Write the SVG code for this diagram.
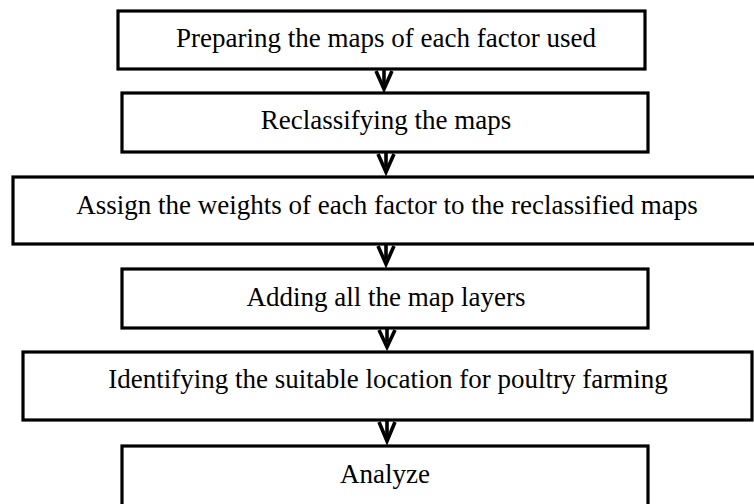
<svg xmlns="http://www.w3.org/2000/svg" width="754" height="504" viewBox="0 0 754 504">
<style>
.box{fill:#fff;stroke:#000;stroke-width:3.2}
.lbl{font-family:"Liberation Serif","Times New Roman",serif;font-size:27px;fill:#000;text-anchor:middle}
.arr{fill:none;stroke:#000;stroke-width:3.6}
</style>
<rect width="754" height="504" fill="#fff"/>
<g id="connectors">
<g><line class="arr" x1="384" y1="69" x2="384" y2="84"/><path class="arr" d="M376,71 L384,89 L392,71"/></g>
<g><line class="arr" x1="386" y1="152" x2="386" y2="167"/><path class="arr" d="M378,154 L386,172 L394,154"/></g>
<g><line class="arr" x1="386" y1="244" x2="386" y2="259"/><path class="arr" d="M378,246 L386,264 L394,246"/></g>
<g><line class="arr" x1="387" y1="328" x2="387" y2="342"/><path class="arr" d="M379,330 L387,347 L395,330"/></g>
<g><line class="arr" x1="387" y1="420" x2="387" y2="436"/><path class="arr" d="M379,422 L387,441 L395,422"/></g>
</g>
<g id="n1"><rect class="box" x="118" y="11" width="527" height="58"/><text class="lbl" x="386" y="47">Preparing the maps of each factor used</text></g>
<g id="n2"><rect class="box" x="122" y="93" width="526" height="59"/><text class="lbl" x="386" y="129">Reclassifying the maps</text></g>
<g id="n3"><rect class="box" x="13" y="177" width="750" height="67"/><text class="lbl" x="387" y="214">Assign the weights of each factor to the reclassified maps</text></g>
<g id="n4"><rect class="box" x="122" y="269" width="526" height="59"/><text class="lbl" x="386" y="306">Adding all the map layers</text></g>
<g id="n5"><rect class="box" x="23" y="352" width="729" height="68"/><text class="lbl" x="388" y="388">Identifying the suitable location for poultry farming</text></g>
<g id="n6"><rect class="box" x="122" y="446" width="526" height="70"/><text class="lbl" x="385" y="483">Analyze</text></g>
</svg>
